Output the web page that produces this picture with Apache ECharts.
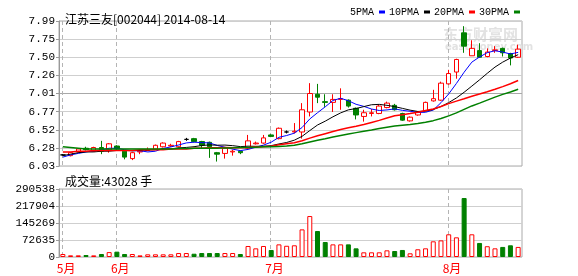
<!DOCTYPE html>
<html><head><meta charset="utf-8">
<script src="https://cdn.jsdelivr.net/npm/echarts@6/dist/echarts.min.js"></script>
<style>html,body{margin:0;padding:0;background:#fff}#c{width:578px;height:276px}</style>
</head><body><div id="c"></div>
<script>
const stockName = '江苏三友[002044]';
const dates = ['2014-05-22','2014-05-23','2014-05-26','2014-05-27','2014-05-28','2014-05-29','2014-05-30',
'2014-06-03','2014-06-04','2014-06-05','2014-06-06','2014-06-09','2014-06-10','2014-06-11','2014-06-12','2014-06-13','2014-06-16','2014-06-17','2014-06-18','2014-06-19','2014-06-20','2014-06-23','2014-06-24','2014-06-25','2014-06-26','2014-06-27','2014-06-30',
'2014-07-01','2014-07-02','2014-07-03','2014-07-04','2014-07-07','2014-07-08','2014-07-09','2014-07-10','2014-07-11','2014-07-14','2014-07-15','2014-07-16','2014-07-17','2014-07-18','2014-07-21','2014-07-22','2014-07-23','2014-07-24','2014-07-25','2014-07-28','2014-07-29','2014-07-30','2014-07-31',
'2014-08-01','2014-08-04','2014-08-05','2014-08-06','2014-08-07','2014-08-08','2014-08-11','2014-08-12','2014-08-13','2014-08-14'];
const opens  = [6.18,6.17,6.22,6.27,6.23,6.28,6.25,6.30,6.23,6.13,6.22,6.24,6.26,6.29,6.30,6.29,6.39,6.40,6.36,6.35,6.21,6.20,6.22,6.23,6.27,6.33,6.34,6.45,6.40,6.49,6.49,6.49,6.76,7.00,6.90,6.89,6.93,6.92,6.81,6.70,6.74,6.74,6.82,6.85,6.74,6.64,6.72,6.78,6.91,6.92,7.14,7.30,7.83,7.52,7.59,7.51,7.59,7.62,7.55,7.50];
const closes = [6.18,6.21,6.26,6.25,6.28,6.23,6.33,6.26,6.15,6.21,6.23,6.25,6.31,6.34,6.31,6.36,6.39,6.36,6.31,6.29,6.19,6.27,6.23,6.21,6.37,6.34,6.41,6.43,6.54,6.49,6.50,6.79,7.01,6.96,6.89,6.93,6.94,6.84,6.72,6.75,6.75,6.84,6.88,6.79,6.65,6.69,6.76,6.89,6.94,7.15,7.28,7.47,7.65,7.62,7.50,7.57,7.60,7.56,7.49,7.61];
const lows   = [6.17,6.16,6.21,6.24,6.22,6.19,6.21,6.25,6.12,6.11,6.19,6.23,6.25,6.28,6.29,6.28,6.37,6.35,6.27,6.14,6.09,6.13,6.17,6.19,6.25,6.32,6.33,6.42,6.39,6.47,6.47,6.40,6.70,6.88,6.83,6.76,6.79,6.82,6.66,6.63,6.70,6.73,6.81,6.78,6.64,6.63,6.71,6.77,6.90,6.91,7.13,7.21,7.56,7.52,7.50,7.50,7.56,7.51,7.39,7.49];
const highs  = [6.19,6.22,6.27,6.29,6.29,6.37,6.34,6.31,6.24,6.22,6.25,6.28,6.32,6.35,6.33,6.37,6.41,6.41,6.37,6.36,6.22,6.28,6.25,6.24,6.45,6.36,6.45,6.46,6.55,6.51,6.61,6.88,7.15,7.14,7.00,7.00,7.08,6.93,6.82,6.79,6.80,6.86,6.90,6.87,6.75,6.70,6.77,6.90,7.06,7.17,7.33,7.48,7.92,7.73,7.69,7.62,7.65,7.63,7.56,7.67];
const volumes = [12800,7100,7100,8500,7000,12800,21000,22800,12800,12800,7000,11400,11400,11400,11400,17000,17000,14000,17000,17000,17000,17000,17000,12800,47000,37000,47000,30000,54000,48000,50000,118000,175000,111000,64000,54000,54000,54000,37000,20000,20000,20000,28500,25600,30000,15700,33000,37000,67000,71000,97000,84000,252000,97000,60000,46000,37000,43000,50000,43028];
const ma5 = [6.15,6.18,6.20,6.22,6.236,6.246,6.27,6.27,6.25,6.236,6.236,6.22,6.23,6.268,6.288,6.314,6.342,6.352,6.346,6.342,6.308,6.284,6.258,6.238,6.254,6.284,6.312,6.352,6.418,6.442,6.474,6.55,6.666,6.75,6.83,6.916,6.946,6.912,6.864,6.836,6.80,6.78,6.788,6.802,6.782,6.77,6.754,6.756,6.786,6.886,7.004,7.146,7.298,7.434,7.504,7.562,7.588,7.57,7.544,7.566];
const ma10 = [6.17,6.19,6.21,6.22,6.22,6.23,6.23,6.24,6.24,6.236,6.241,6.245,6.25,6.259,6.262,6.275,6.281,6.291,6.307,6.315,6.311,6.313,6.305,6.292,6.298,6.296,6.298,6.305,6.328,6.348,6.379,6.431,6.509,6.584,6.636,6.695,6.748,6.789,6.807,6.833,6.858,6.863,6.85,6.833,6.809,6.785,6.767,6.772,6.794,6.834,6.887,6.95,7.027,7.11,7.195,7.283,7.367,7.434,7.489,7.535];
const ma20 = [6.22,6.22,6.23,6.23,6.24,6.24,6.24,6.24,6.24,6.24,6.25,6.25,6.25,6.25,6.26,6.26,6.26,6.27,6.27,6.276,6.276,6.279,6.278,6.276,6.28,6.286,6.29,6.298,6.318,6.332,6.345,6.372,6.407,6.438,6.467,6.496,6.523,6.547,6.568,6.591,6.619,6.647,6.68,6.709,6.723,6.74,6.758,6.781,6.801,6.834,6.873,6.907,6.939,6.972,7.002,7.034,7.067,7.103,7.142,7.185];
const ma30 = [6.29,6.28,6.27,6.26,6.26,6.26,6.26,6.26,6.26,6.26,6.26,6.26,6.26,6.26,6.26,6.265,6.265,6.27,6.27,6.27,6.27,6.275,6.275,6.28,6.28,6.285,6.29,6.29,6.295,6.30,6.31,6.33,6.355,6.378,6.399,6.422,6.442,6.462,6.481,6.499,6.516,6.536,6.555,6.57,6.581,6.592,6.604,6.622,6.643,6.672,6.708,6.748,6.795,6.842,6.88,6.921,6.961,6.998,7.03,7.067];
const maNames = ['5PMA','10PMA','20PMA','30PMA'];
const priceTicks = ['6.03','6.28','6.52','6.77','7.01','7.26','7.50','7.75','7.99'];
const volumeTicks = ['0','72635','145269','217904','290538'];

const priceMin = 6.03, priceMax = 7.99, priceStep = 0.245;
const volMax = 290538, volStep = 72634.5;
const UP = '#ff0000', DOWN = '#008000';
const monoFont = 'Liberation Mono';
const cjkFont = 'Noto Sans CJK SC';

const candleData = dates.map((d, i) => [opens[i], closes[i], lows[i], highs[i]]);
const volData = volumes.map((v, i) => ({
  value: v,
  itemStyle: closes[i] >= opens[i]
    ? { color: '#ffffff', borderColor: UP, borderWidth: 1 }
    : { color: DOWN, borderColor: DOWN, borderWidth: 1 }
}));
const isMonthStart = (i) => i === 0 || dates[i].slice(5, 7) !== dates[i - 1].slice(5, 7);
const gridLeft = 59, gridRight = 56;

const watermark = [
  { type: 'text', left: 443, top: 27, z: 0, silent: true,
    style: { text: '东方财富网', fill: '#e2e2e2', font: 'bold 15px "Noto Sans CJK SC"' } },
  { type: 'text', left: 445, top: 42, z: 0, silent: true,
    style: { text: 'eastmoney.com', fill: '#e2e2e2', font: 'bold 10px "DejaVu Sans"' } }
];

const chart = echarts.init(document.getElementById('c'), null, { renderer: 'canvas' });
chart.setOption({
  animation: false,
  backgroundColor: '#fff',
  title: [
    { text: stockName + ' ' + dates[dates.length - 1], left: 60, top: 8,
      textStyle: { fontSize: 12, fontWeight: 'normal', color: '#000', fontFamily: cjkFont } },
    { text: '成交量:' + volumes[volumes.length - 1] + ' 手', left: 60, top: 170,
      textStyle: { fontSize: 12, fontWeight: 'normal', color: '#000', fontFamily: cjkFont } }
  ],
  legend: {
    data: maNames, right: 58, top: 7, align: 'right', icon: 'rect',
    itemWidth: 6, itemHeight: 3, itemGap: 4, padding: 0,
    textStyle: { fontSize: 10, color: '#000', fontFamily: monoFont }
  },
  graphic: watermark,
  grid: [
    { left: gridLeft, right: gridRight, top: 21, height: 145, show: true, borderColor: '#aaa', borderWidth: 1, backgroundColor: 'transparent' },
    { left: gridLeft, right: gridRight, top: 189, height: 68, show: true, borderColor: '#aaa', borderWidth: 1, backgroundColor: 'transparent' }
  ],
  xAxis: [
    { type: 'category', gridIndex: 0, data: dates, boundaryGap: true,
      axisLine: { show: false }, axisTick: { show: false }, axisLabel: { show: false }, splitLine: { show: false } },
    { type: 'category', gridIndex: 1, data: dates, boundaryGap: true,
      axisLine: { show: false }, axisTick: { show: false }, splitLine: { show: false },
      axisLabel: {
        show: true, interval: (i) => isMonthStart(i), margin: 5,
        formatter: (v) => Number(v.slice(5, 7)) + '月',
        color: UP, fontSize: 12, fontFamily: cjkFont, align: 'left', padding: [0, 0, 0, -6]
      } }
  ],
  yAxis: [
    { type: 'value', gridIndex: 0, min: priceMin, max: priceMax, interval: priceStep, scale: true,
      axisLine: { show: true, lineStyle: { color: '#999' } },
      axisTick: { show: true, length: 3, lineStyle: { color: '#999' } },
      splitLine: { show: true, lineStyle: { color: ['#cfcfcf','#cfcfcf','#cfcfcf','#cfcfcf','#a8a8a8','#cfcfcf','#cfcfcf','#cfcfcf','#cfcfcf'], width: 1 } },
      axisLabel: { margin: 4, fontSize: 11, color: '#000', fontFamily: monoFont,
        formatter: (v) => priceTicks[Math.round((v - priceMin) / priceStep)] } },
    { type: 'value', gridIndex: 1, min: 0, max: volMax, interval: volStep,
      axisLine: { show: true, lineStyle: { color: '#999' } },
      axisTick: { show: true, length: 3, lineStyle: { color: '#999' } },
      splitLine: { show: true, lineStyle: { color: '#cfcfcf', width: 1 } },
      axisLabel: { margin: 4, fontSize: 11, color: '#000', fontFamily: monoFont,
        formatter: (v) => volumeTicks[Math.round(v / volStep)] } }
  ],
  series: [
    { type: 'candlestick', name: 'K', xAxisIndex: 0, yAxisIndex: 0, data: candleData, barWidth: 5, z: 3,
      itemStyle: { color: '#ffffff', color0: DOWN, borderColor: UP, borderColor0: DOWN, borderColorDoji: '#000', borderWidth: 1 } },
    { type: 'line', name: maNames[0], xAxisIndex: 0, yAxisIndex: 0, data: ma5, showSymbol: false, symbol: 'none', z: 4, color: '#0000ff', lineStyle: { width: 1, color: '#0000ff' } },
    { type: 'line', name: maNames[1], xAxisIndex: 0, yAxisIndex: 0, data: ma10, showSymbol: false, symbol: 'none', z: 4, color: '#000000', lineStyle: { width: 1, color: '#000000' } },
    { type: 'line', name: maNames[2], xAxisIndex: 0, yAxisIndex: 0, data: ma20, showSymbol: false, symbol: 'none', z: 4, color: '#ff0000', lineStyle: { width: 1.5, color: '#ff0000' } },
    { type: 'line', name: maNames[3], xAxisIndex: 0, yAxisIndex: 0, data: ma30, showSymbol: false, symbol: 'none', z: 4, color: '#008000', lineStyle: { width: 1.5, color: '#008000' } },
    { type: 'bar', name: 'VOL', xAxisIndex: 1, yAxisIndex: 1, data: volData, barWidth: 5, z: 3 }
  ]
});

// dashed month separators, positioned through the chart's own axes
const monthLines = [];
dates.forEach((d, i) => {
  if (!isMonthStart(i)) return;
  [[0, priceMin, priceMax], [1, 0, volMax]].forEach(([g, lo, hi]) => {
    const x = Math.round(chart.convertToPixel({ xAxisIndex: g }, i)) - 0.5;
    const y1 = chart.convertToPixel({ yAxisIndex: g }, hi);
    const y2 = chart.convertToPixel({ yAxisIndex: g }, lo);
    monthLines.push({ type: 'line', z: 1, silent: true,
      shape: { x1: x, y1: y1, x2: x, y2: y2 },
      style: { stroke: '#b4b4b4', lineWidth: 1, lineDash: [4, 3] } });
  });
});
chart.setOption({ graphic: watermark.concat(monthLines) });
</script></body></html>
